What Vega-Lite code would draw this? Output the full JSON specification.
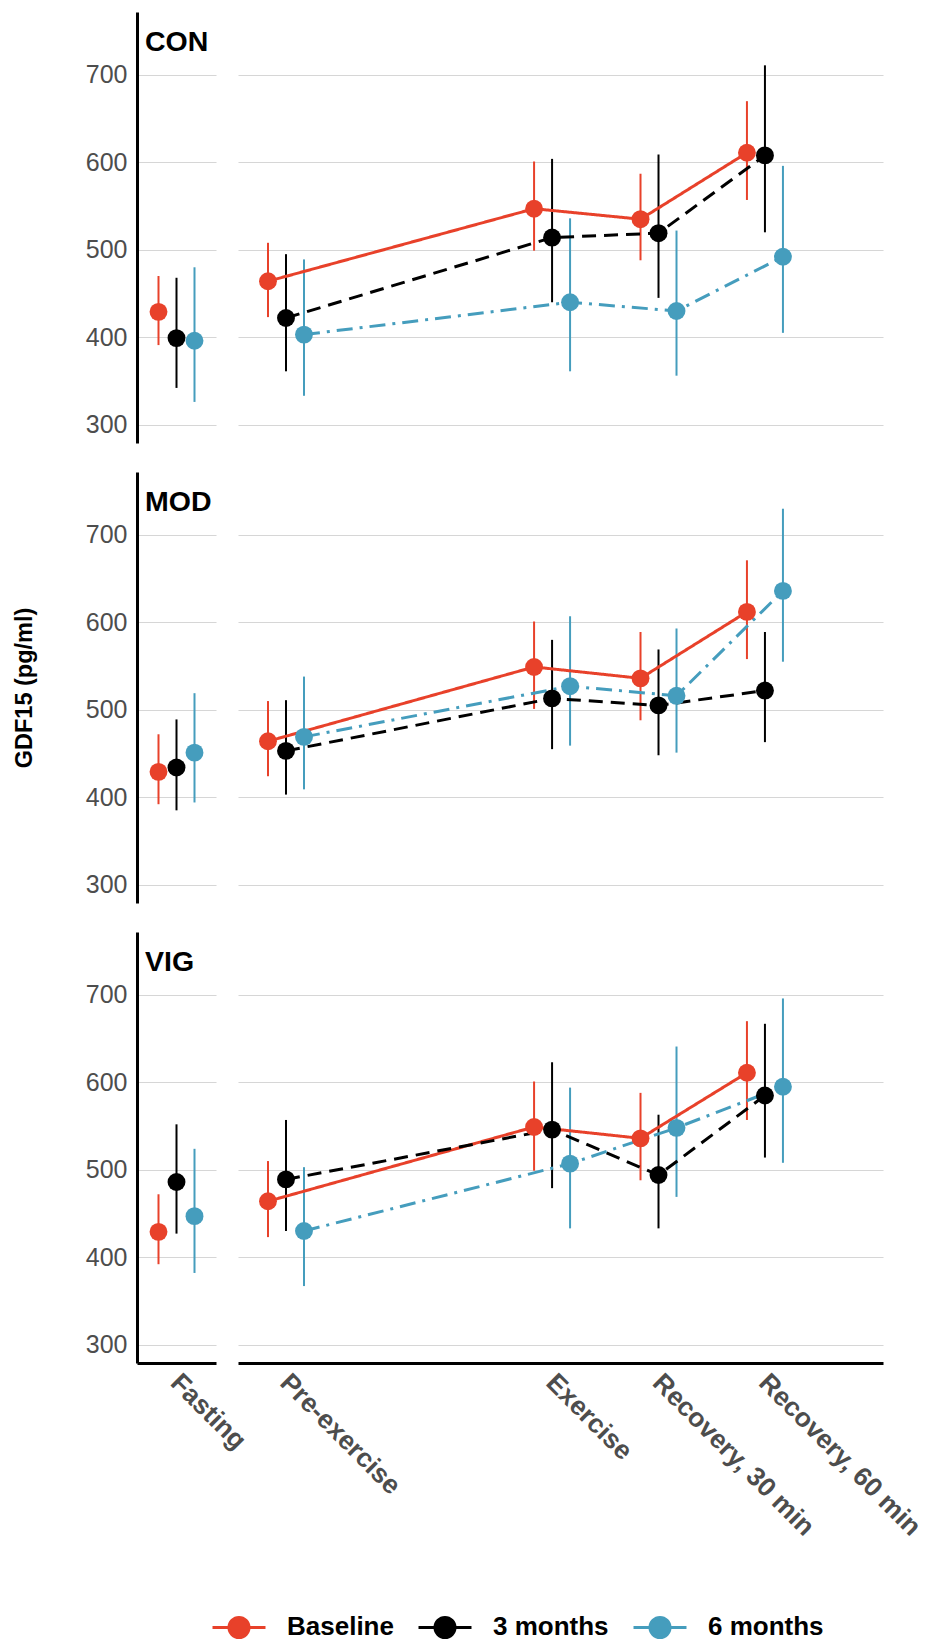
{
  "$schema": "https://vega.github.io/schema/vega-lite/v6.json",
  "background": "white",
  "padding": {"left": 12, "top": 12, "right": 5, "bottom": 0},
  "datasets": {
    "d": [
      {"g":"CON","time":"Fasting","series":"Baseline","mean":429,"lo":391,"hi":470},
      {"g":"CON","time":"Fasting","series":"3 months","mean":399,"lo":342,"hi":468},
      {"g":"CON","time":"Fasting","series":"6 months","mean":396,"lo":326,"hi":480},
      {"g":"CON","time":"Pre-exercise","series":"Baseline","mean":464,"lo":423,"hi":508},
      {"g":"CON","time":"Pre-exercise","series":"3 months","mean":422,"lo":361,"hi":495},
      {"g":"CON","time":"Pre-exercise","series":"6 months","mean":403,"lo":333,"hi":489},
      {"g":"CON","time":"Exercise","series":"Baseline","mean":547,"lo":499,"hi":601},
      {"g":"CON","time":"Exercise","series":"3 months","mean":514,"lo":440,"hi":604},
      {"g":"CON","time":"Exercise","series":"6 months","mean":440,"lo":361,"hi":536},
      {"g":"CON","time":"Recovery, 30 min","series":"Baseline","mean":535,"lo":488,"hi":587},
      {"g":"CON","time":"Recovery, 30 min","series":"3 months","mean":519,"lo":445,"hi":609},
      {"g":"CON","time":"Recovery, 30 min","series":"6 months","mean":430,"lo":356,"hi":522},
      {"g":"CON","time":"Recovery, 60 min","series":"Baseline","mean":611,"lo":557,"hi":670},
      {"g":"CON","time":"Recovery, 60 min","series":"3 months","mean":608,"lo":520,"hi":711},
      {"g":"CON","time":"Recovery, 60 min","series":"6 months","mean":492,"lo":405,"hi":596},
      {"g":"MOD","time":"Fasting","series":"Baseline","mean":429,"lo":392,"hi":472},
      {"g":"MOD","time":"Fasting","series":"3 months","mean":434,"lo":385,"hi":489},
      {"g":"MOD","time":"Fasting","series":"6 months","mean":451,"lo":394,"hi":519},
      {"g":"MOD","time":"Pre-exercise","series":"Baseline","mean":464,"lo":424,"hi":510},
      {"g":"MOD","time":"Pre-exercise","series":"3 months","mean":453,"lo":403,"hi":511},
      {"g":"MOD","time":"Pre-exercise","series":"6 months","mean":469,"lo":409,"hi":538},
      {"g":"MOD","time":"Exercise","series":"Baseline","mean":549,"lo":501,"hi":601},
      {"g":"MOD","time":"Exercise","series":"3 months","mean":513,"lo":455,"hi":580},
      {"g":"MOD","time":"Exercise","series":"6 months","mean":527,"lo":459,"hi":607},
      {"g":"MOD","time":"Recovery, 30 min","series":"Baseline","mean":536,"lo":488,"hi":589},
      {"g":"MOD","time":"Recovery, 30 min","series":"3 months","mean":505,"lo":448,"hi":569},
      {"g":"MOD","time":"Recovery, 30 min","series":"6 months","mean":516,"lo":451,"hi":593},
      {"g":"MOD","time":"Recovery, 60 min","series":"Baseline","mean":612,"lo":558,"hi":671},
      {"g":"MOD","time":"Recovery, 60 min","series":"3 months","mean":522,"lo":463,"hi":589},
      {"g":"MOD","time":"Recovery, 60 min","series":"6 months","mean":636,"lo":555,"hi":730},
      {"g":"VIG","time":"Fasting","series":"Baseline","mean":429,"lo":392,"hi":472},
      {"g":"VIG","time":"Fasting","series":"3 months","mean":486,"lo":427,"hi":552},
      {"g":"VIG","time":"Fasting","series":"6 months","mean":447,"lo":382,"hi":524},
      {"g":"VIG","time":"Pre-exercise","series":"Baseline","mean":464,"lo":423,"hi":510},
      {"g":"VIG","time":"Pre-exercise","series":"3 months","mean":489,"lo":430,"hi":557},
      {"g":"VIG","time":"Pre-exercise","series":"6 months","mean":430,"lo":367,"hi":503},
      {"g":"VIG","time":"Exercise","series":"Baseline","mean":549,"lo":499,"hi":601},
      {"g":"VIG","time":"Exercise","series":"3 months","mean":546,"lo":479,"hi":623},
      {"g":"VIG","time":"Exercise","series":"6 months","mean":507,"lo":433,"hi":594},
      {"g":"VIG","time":"Recovery, 30 min","series":"Baseline","mean":536,"lo":488,"hi":588},
      {"g":"VIG","time":"Recovery, 30 min","series":"3 months","mean":494,"lo":433,"hi":563},
      {"g":"VIG","time":"Recovery, 30 min","series":"6 months","mean":548,"lo":469,"hi":641},
      {"g":"VIG","time":"Recovery, 60 min","series":"Baseline","mean":611,"lo":557,"hi":670},
      {"g":"VIG","time":"Recovery, 60 min","series":"3 months","mean":585,"lo":514,"hi":667},
      {"g":"VIG","time":"Recovery, 60 min","series":"6 months","mean":595,"lo":508,"hi":696}
    ]
  },
  "data": {"name": "d"},
  "columns": 2,
  "spacing": {"row": 29, "column": 22},
  "align": "each",
  "bounds": "flush",
  "concat": [
    {
      "width": 79, "height": 431,
      "title": {"text": "CON", "anchor": "start", "frame": "group", "offset": -20, "baseline": "top", "dx": 8, "dy": 24, "fontSize": 28.5, "fontWeight": "bold", "color": "black"},
      "transform": [{"filter": "datum.g === 'CON' && datum.time === 'Fasting'"}],
      "encoding": {
        "x": {"field": "time", "type": "nominal", "scale": {"type": "point", "domain": ["Fasting"]}, "axis": null},
        "xOffset": {"field": "series", "type": "nominal", "scale": {"type": "point", "domain": ["Baseline", "3 months", "6 months"], "range": [-18, 18], "padding": 0}},
        "color": {"field": "series", "type": "nominal", "scale": {"domain": ["Baseline", "3 months", "6 months"], "range": ["#E8412A", "#000000", "#459DBD"]}, "legend": {"title": null}},
        "y": {"field": "mean", "type": "quantitative", "scale": {"domain": [279, 772], "nice": false, "zero": false}, "axis": {"values": [300, 400, 500, 600, 700], "grid": true, "gridColor": "#D6D6D6", "gridWidth": 1.2, "domain": true, "domainColor": "black", "domainWidth": 3, "ticks": false, "labelFontSize": 25, "labelColor": "#4D4D4D", "labelPadding": 10, "title": null}}
      },
      "layer": [
        {"mark": {"type": "rule", "strokeWidth": 2}, "encoding": {"y": {"field": "lo", "type": "quantitative", "scale": {"domain": [279, 772], "nice": false, "zero": false}, "axis": {"values": [300, 400, 500, 600, 700], "grid": true, "gridColor": "#D6D6D6", "gridWidth": 1.2, "domain": true, "domainColor": "black", "domainWidth": 3, "ticks": false, "labelFontSize": 25, "labelColor": "#4D4D4D", "labelPadding": 10, "title": null}}, "y2": {"field": "hi"}}},
        {"mark": {"type": "point", "filled": true, "size": 320, "opacity": 1}}
      ]
    },
    {
      "width": 645, "height": 431,
      "transform": [{"filter": "datum.g === 'CON' && datum.time !== 'Fasting'"}],
      "encoding": {
        "x": {"field": "time", "type": "nominal", "scale": {"type": "point", "domain": ["Pre-exercise", "gap1", "gap2", "gap3", "gap4", "Exercise", "gap5", "Recovery, 30 min", "gap6", "Recovery, 60 min", "gap7", "gap8"], "padding": 0.56, "align": 0.805}, "axis": null},
        "xOffset": {"field": "series", "type": "nominal", "scale": {"type": "point", "domain": ["Baseline", "3 months", "6 months"], "range": [-18, 18], "padding": 0}},
        "color": {"field": "series", "type": "nominal", "scale": {"domain": ["Baseline", "3 months", "6 months"], "range": ["#E8412A", "#000000", "#459DBD"]}, "legend": {"title": null}},
        "y": {"field": "mean", "type": "quantitative", "scale": {"domain": [279, 772], "nice": false, "zero": false}, "axis": {"values": [300, 400, 500, 600, 700], "grid": true, "gridColor": "#D6D6D6", "gridWidth": 1.2, "domain": false, "ticks": false, "labels": false, "title": null}}
      },
      "layer": [
        {"mark": {"type": "rule", "strokeWidth": 2}, "encoding": {"y": {"field": "lo", "type": "quantitative", "scale": {"domain": [279, 772], "nice": false, "zero": false}, "axis": {"values": [300, 400, 500, 600, 700], "grid": true, "gridColor": "#D6D6D6", "gridWidth": 1.2, "domain": false, "ticks": false, "labels": false, "title": null}}, "y2": {"field": "hi"}}},
        {"mark": {"type": "line", "strokeWidth": 3}, "encoding": {"strokeDash": {"condition": [{"test": "datum.series === '3 months'", "value": [14, 8]}, {"test": "datum.series === '6 months'", "value": [16, 7, 3, 7]}], "value": [1, 0]}}},
        {"mark": {"type": "point", "filled": true, "size": 320, "opacity": 1}}
      ]
    },
    {
      "width": 79, "height": 431,
      "title": {"text": "MOD", "anchor": "start", "frame": "group", "offset": -20, "baseline": "top", "dx": 8, "dy": 24, "fontSize": 28.5, "fontWeight": "bold", "color": "black"},
      "transform": [{"filter": "datum.g === 'MOD' && datum.time === 'Fasting'"}],
      "encoding": {
        "x": {"field": "time", "type": "nominal", "scale": {"type": "point", "domain": ["Fasting"]}, "axis": null},
        "xOffset": {"field": "series", "type": "nominal", "scale": {"type": "point", "domain": ["Baseline", "3 months", "6 months"], "range": [-18, 18], "padding": 0}},
        "color": {"field": "series", "type": "nominal", "scale": {"domain": ["Baseline", "3 months", "6 months"], "range": ["#E8412A", "#000000", "#459DBD"]}, "legend": {"title": null}},
        "y": {"field": "mean", "type": "quantitative", "scale": {"domain": [279, 772], "nice": false, "zero": false}, "axis": {"values": [300, 400, 500, 600, 700], "grid": true, "gridColor": "#D6D6D6", "gridWidth": 1.2, "domain": true, "domainColor": "black", "domainWidth": 3, "ticks": false, "labelFontSize": 25, "labelColor": "#4D4D4D", "labelPadding": 10, "title": "GDF15 (pg/ml)", "titleFontSize": 23.5, "titleFontWeight": "bold", "titleColor": "black", "titlePadding": 49}}
      },
      "layer": [
        {"mark": {"type": "rule", "strokeWidth": 2}, "encoding": {"y": {"field": "lo", "type": "quantitative", "scale": {"domain": [279, 772], "nice": false, "zero": false}, "axis": {"values": [300, 400, 500, 600, 700], "grid": true, "gridColor": "#D6D6D6", "gridWidth": 1.2, "domain": true, "domainColor": "black", "domainWidth": 3, "ticks": false, "labelFontSize": 25, "labelColor": "#4D4D4D", "labelPadding": 10, "title": "GDF15 (pg/ml)", "titleFontSize": 23.5, "titleFontWeight": "bold", "titleColor": "black", "titlePadding": 49}}, "y2": {"field": "hi"}}},
        {"mark": {"type": "point", "filled": true, "size": 320, "opacity": 1}}
      ]
    },
    {
      "width": 645, "height": 431,
      "transform": [{"filter": "datum.g === 'MOD' && datum.time !== 'Fasting'"}],
      "encoding": {
        "x": {"field": "time", "type": "nominal", "scale": {"type": "point", "domain": ["Pre-exercise", "gap1", "gap2", "gap3", "gap4", "Exercise", "gap5", "Recovery, 30 min", "gap6", "Recovery, 60 min", "gap7", "gap8"], "padding": 0.56, "align": 0.805}, "axis": null},
        "xOffset": {"field": "series", "type": "nominal", "scale": {"type": "point", "domain": ["Baseline", "3 months", "6 months"], "range": [-18, 18], "padding": 0}},
        "color": {"field": "series", "type": "nominal", "scale": {"domain": ["Baseline", "3 months", "6 months"], "range": ["#E8412A", "#000000", "#459DBD"]}, "legend": {"title": null}},
        "y": {"field": "mean", "type": "quantitative", "scale": {"domain": [279, 772], "nice": false, "zero": false}, "axis": {"values": [300, 400, 500, 600, 700], "grid": true, "gridColor": "#D6D6D6", "gridWidth": 1.2, "domain": false, "ticks": false, "labels": false, "title": null}}
      },
      "layer": [
        {"mark": {"type": "rule", "strokeWidth": 2}, "encoding": {"y": {"field": "lo", "type": "quantitative", "scale": {"domain": [279, 772], "nice": false, "zero": false}, "axis": {"values": [300, 400, 500, 600, 700], "grid": true, "gridColor": "#D6D6D6", "gridWidth": 1.2, "domain": false, "ticks": false, "labels": false, "title": null}}, "y2": {"field": "hi"}}},
        {"mark": {"type": "line", "strokeWidth": 3}, "encoding": {"strokeDash": {"condition": [{"test": "datum.series === '3 months'", "value": [14, 8]}, {"test": "datum.series === '6 months'", "value": [16, 7, 3, 7]}], "value": [1, 0]}}},
        {"mark": {"type": "point", "filled": true, "size": 320, "opacity": 1}}
      ]
    },
    {
      "width": 79, "height": 431,
      "title": {"text": "VIG", "anchor": "start", "frame": "group", "offset": -20, "baseline": "top", "dx": 8, "dy": 24, "fontSize": 28.5, "fontWeight": "bold", "color": "black"},
      "transform": [{"filter": "datum.g === 'VIG' && datum.time === 'Fasting'"}],
      "encoding": {
        "x": {"field": "time", "type": "nominal", "scale": {"type": "point", "domain": ["Fasting"]}, "axis": {"labelAngle": 45, "labelAlign": "left", "labelBaseline": "top", "labelFontSize": 26.5, "labelFontWeight": "bold", "labelColor": "#4D4D4D", "labelLimit": 400, "labelOverlap": false, "labelFlush": false, "labelPadding": 6, "labelOffset": 7, "ticks": false, "grid": false, "domainColor": "black", "domainWidth": 3, "title": null}},
        "xOffset": {"field": "series", "type": "nominal", "scale": {"type": "point", "domain": ["Baseline", "3 months", "6 months"], "range": [-18, 18], "padding": 0}},
        "color": {"field": "series", "type": "nominal", "scale": {"domain": ["Baseline", "3 months", "6 months"], "range": ["#E8412A", "#000000", "#459DBD"]}, "legend": {"title": null}},
        "y": {"field": "mean", "type": "quantitative", "scale": {"domain": [279, 772], "nice": false, "zero": false}, "axis": {"values": [300, 400, 500, 600, 700], "grid": true, "gridColor": "#D6D6D6", "gridWidth": 1.2, "domain": true, "domainColor": "black", "domainWidth": 3, "ticks": false, "labelFontSize": 25, "labelColor": "#4D4D4D", "labelPadding": 10, "title": null}}
      },
      "layer": [
        {"mark": {"type": "rule", "strokeWidth": 2}, "encoding": {"y": {"field": "lo", "type": "quantitative", "scale": {"domain": [279, 772], "nice": false, "zero": false}, "axis": {"values": [300, 400, 500, 600, 700], "grid": true, "gridColor": "#D6D6D6", "gridWidth": 1.2, "domain": true, "domainColor": "black", "domainWidth": 3, "ticks": false, "labelFontSize": 25, "labelColor": "#4D4D4D", "labelPadding": 10, "title": null}}, "y2": {"field": "hi"}}},
        {"mark": {"type": "point", "filled": true, "size": 320, "opacity": 1}}
      ]
    },
    {
      "width": 645, "height": 431,
      "transform": [{"filter": "datum.g === 'VIG' && datum.time !== 'Fasting'"}],
      "encoding": {
        "x": {"field": "time", "type": "nominal", "scale": {"type": "point", "domain": ["Pre-exercise", "gap1", "gap2", "gap3", "gap4", "Exercise", "gap5", "Recovery, 30 min", "gap6", "Recovery, 60 min", "gap7", "gap8"], "padding": 0.56, "align": 0.805}, "axis": {"values": ["Pre-exercise", "Exercise", "Recovery, 30 min", "Recovery, 60 min"], "labelAngle": 45, "labelAlign": "left", "labelBaseline": "top", "labelFontSize": 26.5, "labelFontWeight": "bold", "labelColor": "#4D4D4D", "labelLimit": 400, "labelOverlap": false, "labelFlush": false, "labelPadding": 6, "labelOffset": 7, "ticks": false, "grid": false, "domainColor": "black", "domainWidth": 3, "title": null}},
        "xOffset": {"field": "series", "type": "nominal", "scale": {"type": "point", "domain": ["Baseline", "3 months", "6 months"], "range": [-18, 18], "padding": 0}},
        "color": {"field": "series", "type": "nominal", "scale": {"domain": ["Baseline", "3 months", "6 months"], "range": ["#E8412A", "#000000", "#459DBD"]}, "legend": {"title": null}},
        "y": {"field": "mean", "type": "quantitative", "scale": {"domain": [279, 772], "nice": false, "zero": false}, "axis": {"values": [300, 400, 500, 600, 700], "grid": true, "gridColor": "#D6D6D6", "gridWidth": 1.2, "domain": false, "ticks": false, "labels": false, "title": null}}
      },
      "layer": [
        {"mark": {"type": "rule", "strokeWidth": 2}, "encoding": {"y": {"field": "lo", "type": "quantitative", "scale": {"domain": [279, 772], "nice": false, "zero": false}, "axis": {"values": [300, 400, 500, 600, 700], "grid": true, "gridColor": "#D6D6D6", "gridWidth": 1.2, "domain": false, "ticks": false, "labels": false, "title": null}}, "y2": {"field": "hi"}}},
        {"mark": {"type": "line", "strokeWidth": 3}, "encoding": {"strokeDash": {"condition": [{"test": "datum.series === '3 months'", "value": [14, 8]}, {"test": "datum.series === '6 months'", "value": [16, 7, 3, 7]}], "value": [1, 0]}}},
        {"mark": {"type": "point", "filled": true, "size": 320, "opacity": 1}}
      ]
    }
  ],
  "config": {
    "font": "Liberation Sans",
    "view": {"stroke": null},
    "axis": {"labelFont": "Liberation Sans", "titleFont": "Liberation Sans"},
    "legend": {"orient": "none", "legendX": 87, "legendY": 1600, "direction": "horizontal", "labelFont": "Liberation Sans", "labelFontSize": 26, "labelFontWeight": "bold", "labelColor": "black", "symbolType": "M-2,0L2,0M-0.755,0A0.755,0.755,0,1,0,0.755,0A0.755,0.755,0,1,0,-0.755,0Z", "symbolSize": 702, "symbolStrokeWidth": 3, "labelOffset": 33, "columnPadding": 18}
  }
}
